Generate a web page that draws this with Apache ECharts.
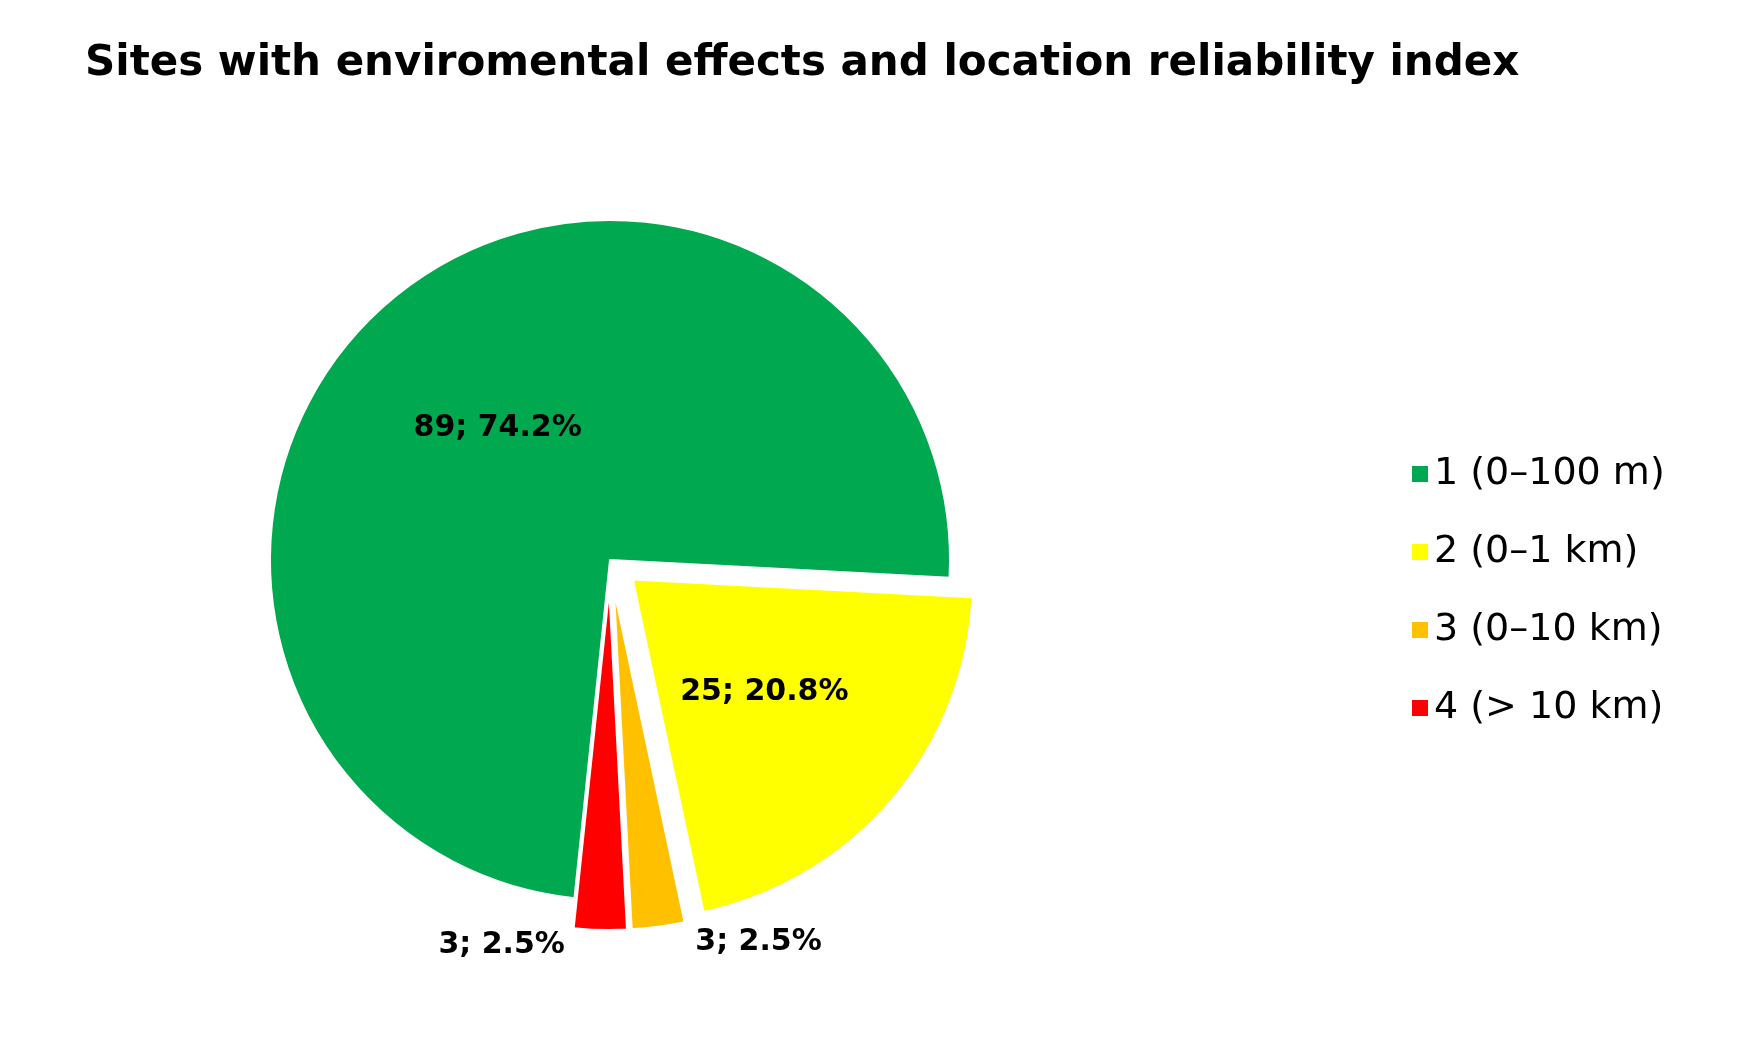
<!DOCTYPE html>
<html><head><meta charset="utf-8">
<script src="https://cdn.jsdelivr.net/npm/echarts@6/dist/echarts.min.js"></script>
<style>html,body{margin:0;background:#fff}#c{width:1749px;height:1038px}</style>
</head><body><div id="c"></div>
<script>
const categories = ['1 (0–100 m)', '2 (0–1 km)', '3 (0–10 km)', '4 (> 10 km)'];
const values = [89, 25, 3, 3];
const percents = ['74.2%', '20.8%', '2.5%', '2.5%'];
const colors = ['#00a84f', '#ffff00', '#ffc000', '#ff0000'];
const chart = echarts.init(document.getElementById('c'));
chart.setOption({
  title: { text: 'Sites with enviromental effects and location reliability index', left: 80, top: 38,
    textStyle: { fontFamily: 'DejaVu Sans', fontWeight: 'bold', fontSize: 42, color: '#000' } },
  legend: { orient: 'vertical', left: 1405, top: 450, itemWidth: 18, itemHeight: 18, itemGap: 40,
    icon: 'rect', textStyle: { fontFamily: 'DejaVu Sans', fontSize: 38, color: '#000' }, data: categories },
  series: [{
    type: 'pie', center: [610, 560], radius: 340, startAngle: 264, clockwise: true,
    selectedMode: 'multiple', selectedOffset: 30, avoidLabelOverlap: false,
    labelLayout: { hideOverlap: false },
    itemStyle: { borderColor: '#fff', borderWidth: 2 },
    label: { fontFamily: 'DejaVu Sans', fontWeight: 'bold', fontSize: 30, color: '#000',
      formatter: p => p.value + '; ' + percents[p.dataIndex] },
    data: categories.map((n, i) => ({
      name: n, value: values[i], itemStyle: { color: colors[i] }, selected: i > 0,
      label: i < 2 ? { position: 'inside' } :
        { position: 'outside', distance: 20, align: i === 2 ? 'left' : 'right', offset: [i === 2 ? -20 : 0, 10] },
      labelLine: { show: false }
    }))
  }]
});
</script></body></html>
